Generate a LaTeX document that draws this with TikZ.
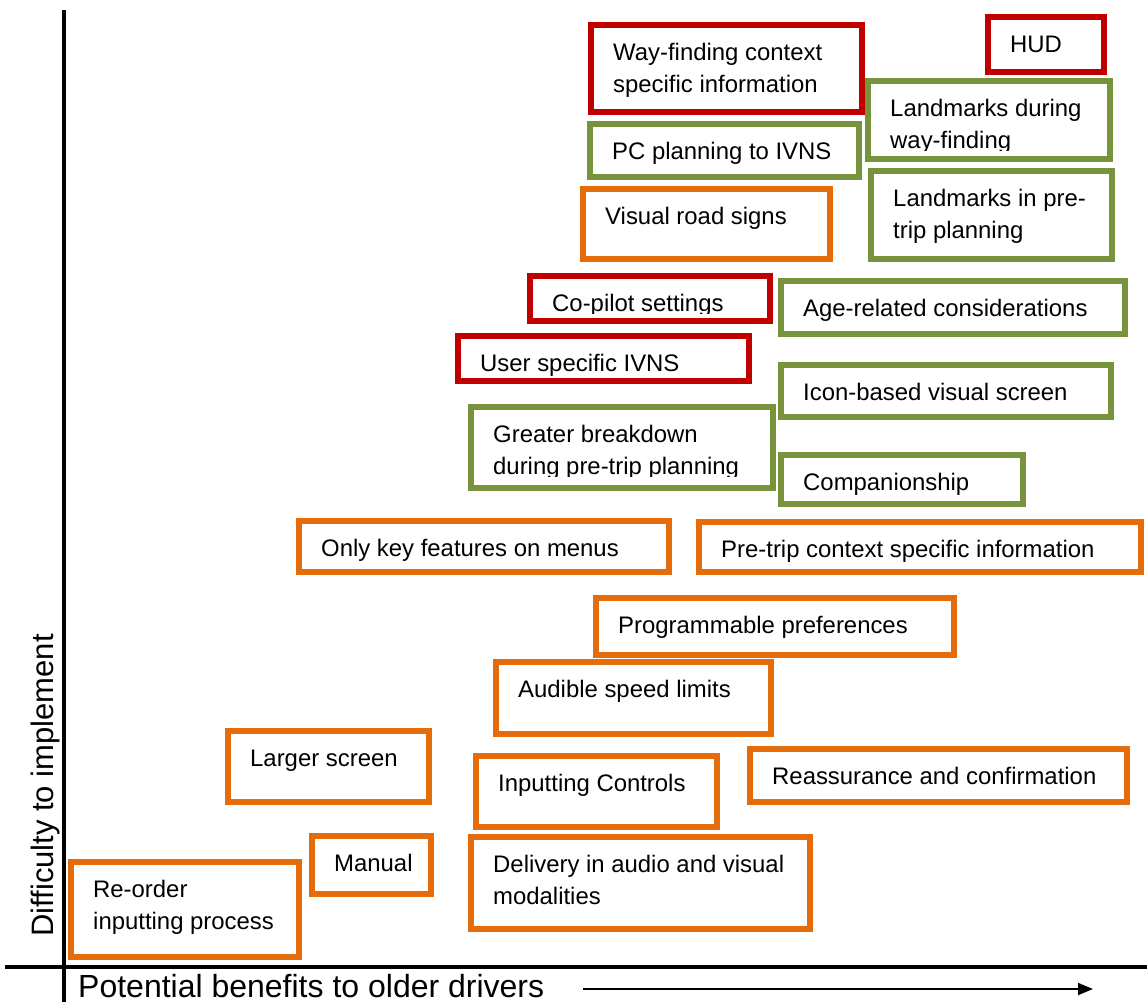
\documentclass[tikz,border=0pt]{standalone}
\usepackage{fontspec}
\setmainfont{Liberation Sans}
\usetikzlibrary{arrows.meta}

\definecolor{cred}{HTML}{C00000}
\definecolor{cgreen}{HTML}{77933C}
\definecolor{corange}{HTML}{E46C0A}

\tikzset{
  ibox/.style={rectangle, line width=6pt, inner sep=0pt, outer sep=0pt, fill=white},
  itext/.style={inner sep=0pt, anchor=base west, text=black,
    font=\fontsize{23.9}{28}\selectfont},
  axislabel/.style={inner sep=0pt, anchor=base west, text=black},
  axisline/.style={draw=black, line cap=butt},
}

% #1 name, #2 colour, #3..#6 outer edges x1,y1,x2,y2,
% #7 lower edge of the text area, #8 first line, #9 second line (may be empty)
\newcommand\ideabox[9]{%
  \node[ibox, draw=#2, minimum width={#5-#3-6}, minimum height={#6-#4-6},
        anchor=north west] (#1) at ({#3+3},{#4+3}) {};
  \begin{scope}
    \clip ({#3+6},{#4+6}) rectangle ({#5-6},{#7});
    \node[itext] (#1-a) at ({#3+25},{#4+38}) {#8};
    \if\relax\detokenize{#9}\relax\else
      \node[itext] (#1-b) at ({#3+25},{#4+70}) {#9};
    \fi
  \end{scope}}

\begin{document}
\begin{tikzpicture}[x=1pt, y=-1pt]
\useasboundingbox (0,0) rectangle (1147,1002);

% axes
\coordinate (ytop) at (64,10);
\coordinate (ybot) at (64,1002);
\coordinate (xleft) at (5,967);
\coordinate (xright) at (1147,967);
\draw[axisline, line width=3.5pt] (ytop) -- (ybot);
\draw[axisline, line width=4.5pt] (xleft) -- (xright);

\node[axislabel, rotate=90, font=\fontsize{31}{36}\selectfont] (ylabel) at (53,937) {Difficulty to implement};
\node[axislabel, font=\fontsize{32}{36}\selectfont] (xlabel) at (78,997) {Potential benefits to older drivers};
\coordinate (arrowstart) at (583,989);
\coordinate (arrowend) at (1093,989);
\draw[line width=1.5pt, -{Triangle[length=15pt,width=12pt]}] (arrowstart) -- (arrowend);

% red: hardest ideas
\ideabox{wayfind}{cred}{588}{22}{865}{115}{109}{Way-finding context}{specific information}
\ideabox{hud}{cred}{985}{14}{1107}{75}{69}{HUD}{}
\ideabox{copilot}{cred}{527}{273}{773}{324}{313}{Co-pilot settings}{}
\ideabox{userivns}{cred}{455}{333}{752}{384}{378}{User specific IVNS}{}

% green
\ideabox{lmway}{cgreen}{865}{78}{1113}{162}{150}{Landmarks during}{way-finding}
\ideabox{pcplan}{cgreen}{587}{121}{862}{180}{174}{PC planning to IVNS}{}
\ideabox{lmpre}{cgreen}{868}{168}{1115}{262}{256}{Landmarks in pre-}{trip planning}
\ideabox{agerel}{cgreen}{778}{278}{1128}{337}{331}{Age-related considerations}{}
\ideabox{icon}{cgreen}{778}{362}{1114}{420}{414}{Icon-based visual screen}{}
\ideabox{greater}{cgreen}{468}{404}{776}{491}{476}{Greater breakdown}{during pre-trip planning}
\ideabox{companion}{cgreen}{778}{452}{1026}{507}{501}{Companionship}{}

% orange
\ideabox{roadsigns}{corange}{580}{186}{833}{262}{256}{Visual road signs}{}
\ideabox{onlykey}{corange}{296}{518}{672}{575}{569}{Only key features on menus}{}
\ideabox{pretrip}{corange}{696}{519}{1144}{575}{569}{Pre-trip context specific information}{}
\ideabox{prog}{corange}{593}{595}{957}{658}{652}{Programmable preferences}{}
\ideabox{audible}{corange}{493}{659}{774}{737}{731}{Audible speed limits}{}
\ideabox{larger}{corange}{225}{728}{432}{805}{799}{Larger screen}{}
\ideabox{reassure}{corange}{747}{746}{1130}{805}{799}{Reassurance and confirmation}{}
\ideabox{inputting}{corange}{473}{753}{720}{830}{824}{Inputting Controls}{}
\ideabox{manual}{corange}{309}{833}{434}{897}{891}{Manual}{}
\ideabox{delivery}{corange}{468}{834}{813}{932}{926}{Delivery in audio and visual}{modalities}
\ideabox{reorder}{corange}{68}{859}{302}{960}{954}{Re-order}{inputting process}
\end{tikzpicture}
\end{document}
